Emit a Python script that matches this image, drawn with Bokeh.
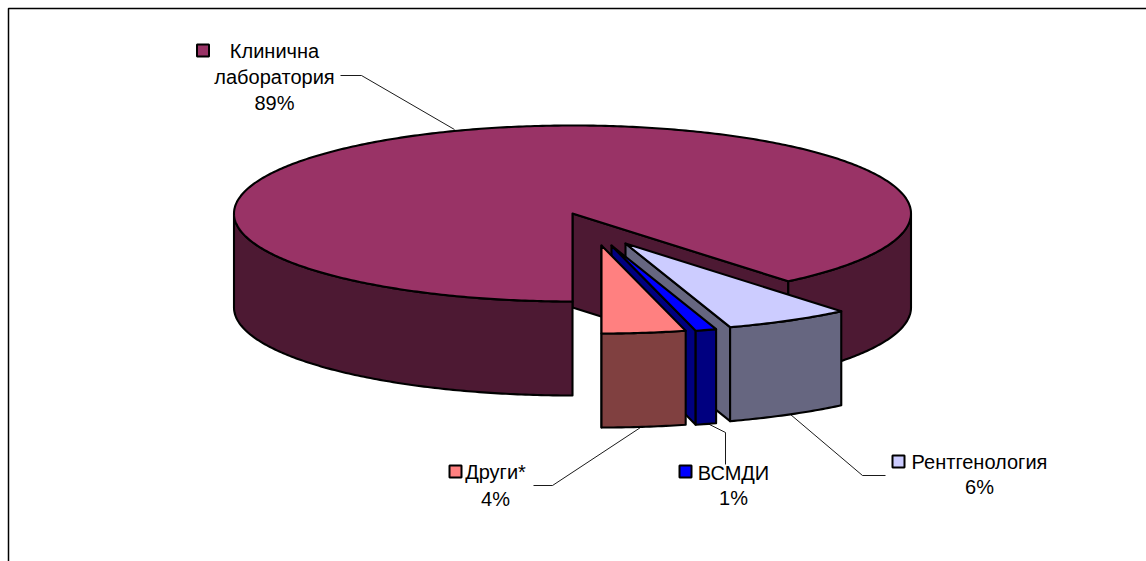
import math

from bokeh.core.properties import value
from bokeh.embed import file_html
from bokeh.models import Range1d
from bokeh.plotting import figure
from bokeh.resources import INLINE

# Share of each unit, in percent
categories = ["Клинична лаборатория", "Рентгенология", "ВСМДИ", "Други*"]
shares = [89, 6, 1, 4]

top_colors = ["#993366", "#CCCCFF", "#0000FF", "#FF8080"]
wall_colors = ["#4D1933", "#666680", "#000080", "#804040"]

# Pie projection, in page pixels
CX, CY = 572, 213
RX, RY = 338.5, 88
DEPTH = 94
START = 180  # degrees clockwise from 12 o'clock

# How far each slice is pulled out of the pie
explode_dx = [0, 53, 39, 29]
explode_dy = [0, 30, 32, 32]

EDGE = 2.1


def arc(a0, a1, ox, oy, dz=0.0):
    n = max(2, int(abs(a1 - a0) * 1.5))
    xs, ys = [], []
    for i in range(n + 1):
        t = math.radians(a0 + (a1 - a0) * i / n)
        xs.append(CX + ox + RX * math.sin(t))
        ys.append(CY + oy - RY * math.cos(t) + dz)
    return xs, ys


def patch(p, xs, ys, color):
    p.patch(xs, ys, fill_color=color, line_color="black", line_width=EDGE,
            line_join="round")


def outer_wall(p, a0, a1, ox, oy, color):
    """Rim of the slice between two angles, front half of the ellipse only."""
    segments = [(max(a0, 90), min(a1, 270)), (max(a0, 450), min(a1, 630))]
    for lo, hi in segments:
        if hi > lo:
            xt, yt = arc(lo, hi, ox, oy)
            xb, yb = arc(lo, hi, ox, oy, DEPTH)
            patch(p, xt + xb[::-1], yt + yb[::-1], color)


def radial_wall(p, angle, ox, oy, color):
    xe, ye = arc(angle, angle, ox, oy)
    x0, y0 = CX + ox, CY + oy
    patch(p, [x0, xe[0], xe[0], x0],
          [y0, ye[0], ye[0] + DEPTH, y0 + DEPTH], color)


p = figure(width=1146, height=561, output_backend="svg", toolbar_location=None,
           min_border=0, x_axis_type=None, y_axis_type=None,
           x_range=Range1d(0, 1146), y_range=Range1d(561, 0),
           outline_line_color=None, background_fill_color="white")
p.grid.visible = False

# Chart area border: only the top and left edges fall inside the page
p.line([8, 8, 1146], [561, 8, 8], line_color="black", line_width=1.5)

# Slice angles, clockwise from the start angle
spans = []
a = START
for share in shares:
    spans.append((a, a + share * 3.6))
    a += share * 3.6

# Large slice first, since the pulled-out slices sit in front of it
a0, a1 = spans[0]
radial_wall(p, a1 - 360, 0, 0, wall_colors[0])
outer_wall(p, a0, a1, 0, 0, wall_colors[0])
xs, ys = arc(a0, a1, 0, 0)
patch(p, [CX] + xs, [CY] + ys, top_colors[0])

# Remaining slices, right to left; angles wrap past a full turn
for i in (1, 2, 3):
    a0, a1 = spans[i]
    a0 -= 360
    a1 -= 360
    ox, oy = explode_dx[i], explode_dy[i]
    radial_wall(p, a1, ox, oy, wall_colors[i])
    outer_wall(p, a0, a1, ox, oy, wall_colors[i])
    xs, ys = arc(a0, a1, ox, oy)
    patch(p, [CX + ox] + xs, [CY + oy] + ys, top_colors[i])

# Leader lines
leaders = [
    ([340, 361, 454], [75, 75, 129]),
    ([790, 862, 885], [414, 475, 475]),
    ([707, 725, 725], [423, 432, 464]),
    ([640, 552, 533], [427, 485, 485]),
]
for lx, ly in leaders:
    p.line(lx, ly, line_color="black", line_width=0.9)

# Labels
FONT = value("Liberation Sans")
label_lines = [
    ["Клинична", "лаборатория", f"{shares[0]}%"],
    ["Рентгенология", f"{shares[1]}%"],
    ["ВСМДИ", f"{shares[2]}%"],
    ["Други*", f"{shares[3]}%"],
]
label_x = [[274, 274, 274], [979, 979], [733, 733], [495, 495]]
label_y = [[50, 76, 102], [461, 486], [472, 497], [471, 498]]
key_x = [202.5, 898, 685, 455]
key_y = [50, 461, 471, 471]

for i in range(4):
    p.text(label_x[i], label_y[i], text=label_lines[i], text_font=FONT,
           text_font_size="20px", text_color="black", text_align="center",
           text_baseline="middle")
    p.scatter([key_x[i]], [key_y[i]], marker="square", size=12,
              fill_color=top_colors[i], line_color="black", line_width=2)

open("out.html", "w").write(file_html(p, INLINE))
